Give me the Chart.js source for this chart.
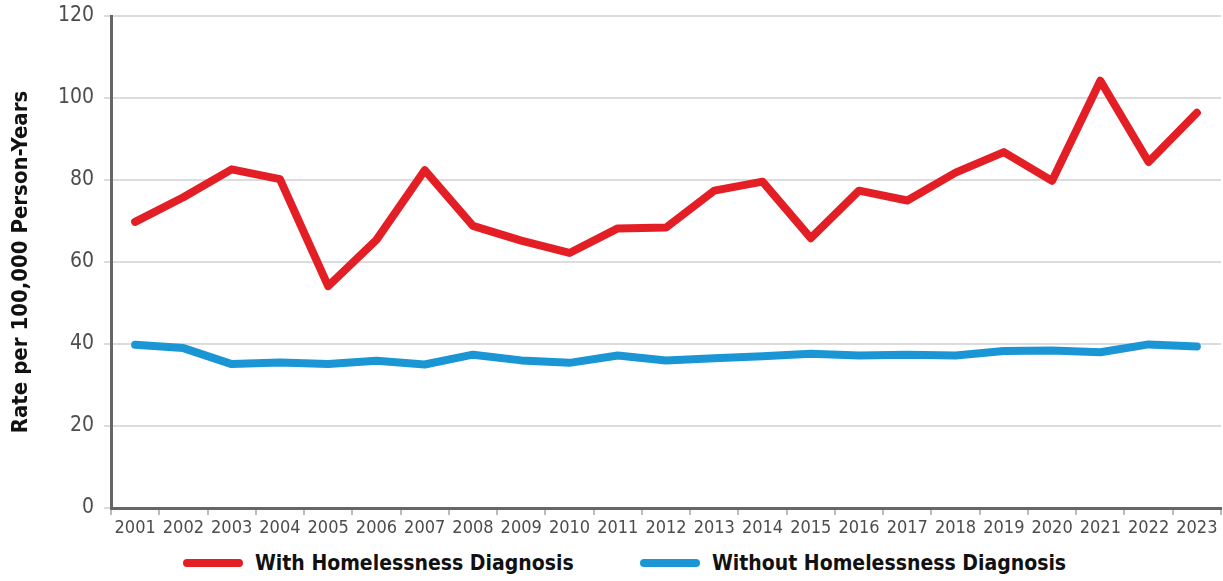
<!DOCTYPE html>
<html>
<head>
<meta charset="utf-8">
<script src="https://cdn.jsdelivr.net/npm/chart.js@4"></script>
<style>
  html, body { margin: 0; padding: 0; background: #fff; }
  #wrap { position: relative; width: 1223px; height: 545px; }
  #legend {
    position: relative; width: 1223px; height: 36px;
    font-family: 'DejaVu Sans Condensed', 'DejaVu Sans', sans-serif;
    font-stretch: condensed; font-weight: bold; font-size: 21px; color: #111;
  }
  #legend .item { position: absolute; top: 0; height: 36px; display: flex; align-items: center; }
  #legend .swatch { width: 60px; height: 8px; border-radius: 4px; margin-right: 12px; }
</style>
</head>
<body>
<div id="wrap"><canvas id="lineChart"></canvas></div>
<div id="legend"></div>
<script>
const years = ["2001", "2002", "2003", "2004", "2005", "2006", "2007", "2008", "2009", "2010", "2011", "2012",
  "2013", "2014", "2015", "2016", "2017", "2018", "2019", "2020", "2021", "2022", "2023"];
const withHomeless = [69.8, 75.8, 82.6, 80.2, 54.1, 65.4, 82.4, 68.8, 65.2, 62.2, 68.2, 68.4,
  77.4, 79.6, 65.8, 77.4, 75.0, 81.8, 86.8, 79.8, 104.2, 84.4, 96.4];
const withoutHomeless = [39.8, 39.0, 35.1, 35.5, 35.1, 35.9, 35.0, 37.4, 36.0, 35.4, 37.2, 36.0,
  36.5, 37.0, 37.6, 37.2, 37.4, 37.2, 38.3, 38.4, 38.0, 39.9, 39.4];
const yTicks = [0, 20, 40, 60, 80, 100, 120];
const seriesNames = ["With Homelessness Diagnosis", "Without Homelessness Diagnosis"];
const seriesColors = ["#e31e25", "#1a96d5"];

const FONT = "'DejaVu Sans Condensed', 'DejaVu Sans', sans-serif";
const CHART = document.getElementById("lineChart");

let lineChart = new Chart(CHART, {
  type: 'line',
  data: {
    labels: years,
    datasets: [
      {
        label: seriesNames[0],
        data: withHomeless,
        borderColor: seriesColors[0],
        backgroundColor: seriesColors[0],
        borderWidth: 8,
        borderCapStyle: "round",
        borderJoinStyle: "round",
        pointRadius: 0,
        tension: 0,
        fill: false
      },
      {
        label: seriesNames[1],
        data: withoutHomeless,
        borderColor: seriesColors[1],
        backgroundColor: seriesColors[1],
        borderWidth: 8,
        borderCapStyle: "round",
        borderJoinStyle: "round",
        pointRadius: 0,
        tension: 0,
        fill: false
      }
    ]
  },
  options: {
    responsive: true,
    maintainAspectRatio: false,
    animation: false,
    layout: { padding: { top: 0, right: 2, left: 0, bottom: 0 } },
    plugins: {
      tooltip: { enabled: false },
      legend: { display: false }
    },
    scales: {
      x: {
        offset: true,
        grid: {
          drawOnChartArea: false,
          drawTicks: true,
          tickLength: 7,
          offset: true,
          color: '#bbb',
          lineWidth: 2
        },
        border: { color: '#666', width: 3 },
        ticks: {
          autoSkip: false,
          maxRotation: 0,
          padding: 3,
          color: '#4d4d4d',
          font: { family: FONT, size: 18 }
        },
        afterFit: function (scale) { scale.height = 37; }
      },
      y: {
        min: 0,
        max: 120,
        afterBuildTicks: function (scale) {
          scale.ticks = yTicks.map(function (v) { return { value: v }; });
        },
        grid: {
          color: '#dcdcdc',
          lineWidth: 2,
          tickLength: 7,
          drawTicks: true
        },
        border: { color: '#666', width: 3 },
        ticks: {
          padding: 10,
          color: '#4d4d4d',
          font: { family: FONT, size: 21, lineHeight: 1 }
        },
        title: {
          display: true,
          text: "Rate per 100,000 Person-Years",
          color: '#111',
          padding: { top: 8, bottom: 0 },
          font: { family: FONT, size: 22, weight: 'bold' }
        },
        afterFit: function (scale) {
          scale.width = 111;
          scale.paddingTop = 16;
        }
      }
    }
  }
});

// legend under the chart, placed like the original
const legendEl = document.getElementById("legend");
const legendLeft = [183, 640];
seriesNames.forEach(function (name, i) {
  const item = document.createElement("div");
  item.className = "item";
  item.style.left = legendLeft[i] + "px";
  item.innerHTML = '<span class="swatch" style="background:' + seriesColors[i] + '"></span><span>' + name + '</span>';
  legendEl.appendChild(item);
});
</script>
</body>
</html>
